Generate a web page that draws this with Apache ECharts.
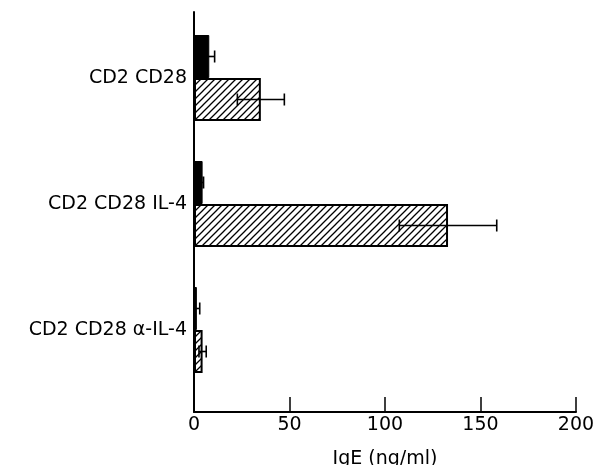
<!DOCTYPE html>
<html>
<head>
<meta charset="utf-8">
<script src="https://cdn.jsdelivr.net/npm/echarts@6/dist/echarts.min.js"></script>
<style>
  html, body { margin: 0; padding: 0; background: #fff; }
  #chart { width: 603px; height: 465px; }
</style>
</head>
<body>
<div id="chart"></div>
<script>
// data
const categories = ['CD2 CD28', 'CD2 CD28 IL-4', 'CD2 CD28 α-IL-4']
const solidValues = [8, 4.5, 1.5]
const solidErrors = [2.8, 0.5, 1.5]
const hatchedValues = [35, 133, 4.5]
const hatchedErrors = [12.3, 25.5, 1.9]
const xMin = 0
const xMax = 200
const xStep = 50

const BAR_W = 43
const FONT = 'DejaVu Sans'

// diagonal hatch tile
function hatchPattern () {
  const s = 7
  const c = document.createElement('canvas')
  c.width = s
  c.height = s
  const ctx = c.getContext('2d')
  ctx.fillStyle = '#fff'
  ctx.fillRect(0, 0, s, s)
  ctx.strokeStyle = '#000'
  ctx.lineWidth = 1.3
  ctx.beginPath()
  ctx.moveTo(0, s)
  ctx.lineTo(s, 0)
  ctx.moveTo(-1, 1)
  ctx.lineTo(1, -1)
  ctx.moveTo(s - 1, s + 1)
  ctx.lineTo(s + 1, s - 1)
  ctx.stroke()
  return c
}

function errorData (values, errors) {
  return values.map((v, i) => [v - errors[i], v + errors[i], i])
}

function errorSeries (values, errors, shift) {
  return {
    type: 'custom',
    xAxisIndex: 1,
    yAxisIndex: 1,
    z: 5,
    data: errorData(values, errors),
    encode: { x: [0, 1], y: 2 },
    renderItem (params, api) {
      const lo = api.coord([api.value(0), api.value(2)])
      const hi = api.coord([api.value(1), api.value(2)])
      const y = lo[1] + shift
      const cap = 6
      const style = { stroke: '#000', lineWidth: 1.6 }
      return {
        type: 'group',
        children: [
          { type: 'line', shape: { x1: lo[0], y1: y, x2: hi[0], y2: y }, style },
          { type: 'line', shape: { x1: lo[0], y1: y - cap, x2: lo[0], y2: y + cap }, style },
          { type: 'line', shape: { x1: hi[0], y1: y - cap, x2: hi[0], y2: y + cap }, style }
        ]
      }
    }
  }
}

const chart = echarts.init(document.getElementById('chart'))
chart.setOption({
  animation: false,
  backgroundColor: '#fff',
  grid: [
    { left: 194, right: 27, top: 12, bottom: 53, outerBoundsMode: 'none' },
    { left: 194, right: 27, top: 15, bottom: 72, outerBoundsMode: 'none' }
  ],
  xAxis: [
    {
      type: 'value',
      gridIndex: 0,
      min: xMin,
      max: xMax,
      interval: xStep,
      name: 'IgE (ng/ml)',
      nameLocation: 'middle',
      nameGap: 38,
      nameTextStyle: { color: '#000', fontFamily: FONT, fontSize: 19 },
      splitLine: { show: false },
      axisLine: { lineStyle: { color: '#000', width: 2 } },
      axisTick: { inside: true, length: 15, lineStyle: { color: '#000', width: 1.5 } },
      axisLabel: { color: '#000', fontFamily: FONT, fontSize: 19, margin: 4 }
    },
    {
      type: 'value',
      gridIndex: 1,
      min: xMin,
      max: xMax,
      show: false
    }
  ],
  yAxis: [
    {
      type: 'value',
      gridIndex: 0,
      min: 0,
      max: 1,
      axisLine: { show: true, lineStyle: { color: '#000', width: 2 } },
      axisTick: { show: false },
      axisLabel: { show: false },
      splitLine: { show: false }
    },
    {
      type: 'category',
      gridIndex: 1,
      inverse: true,
      data: categories,
      axisLine: { show: false },
      axisTick: { show: false },
      axisLabel: { color: '#000', fontFamily: FONT, fontSize: 19, margin: 7 }
    }
  ],
  series: [
    {
      type: 'bar',
      xAxisIndex: 1,
      yAxisIndex: 1,
      barWidth: BAR_W,
      barGap: '0%',
      itemStyle: { color: '#000', borderColor: '#000', borderWidth: 1 },
      data: solidValues
    },
    {
      type: 'bar',
      xAxisIndex: 1,
      yAxisIndex: 1,
      barWidth: BAR_W,
      barGap: '0%',
      itemStyle: {
        color: { image: hatchPattern(), repeat: 'repeat' },
        borderColor: '#000',
        borderWidth: 2
      },
      data: hatchedValues
    },
    errorSeries(solidValues, solidErrors, -BAR_W / 2),
    errorSeries(hatchedValues, hatchedErrors, BAR_W / 2)
  ]
})
</script>
</body>
</html>
